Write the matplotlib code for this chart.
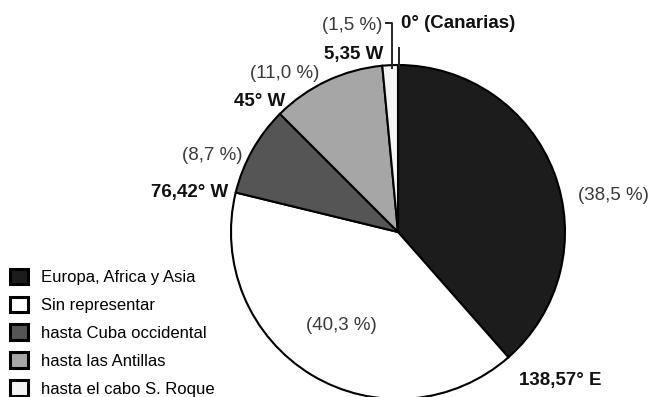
import matplotlib
matplotlib.use("Agg")
import matplotlib.pyplot as plt

plt.rcParams["font.family"] = ["Liberation Sans", "DejaVu Sans"]

# Reparto del globo (porcentaje de los 360°)
categorias = ["Europa, Africa y Asia", "Sin representar", "hasta Cuba occidental",
              "hasta las Antillas", "hasta el cabo S. Roque"]
porcentajes = [38.5, 40.3, 8.7, 11.0, 1.5]
etiquetas_pct = ["(38,5 %)", "(40,3 %)", "(8,7 %)", "(11,0 %)", "(1,5 %)"]
colores = ["#1c1c1c", "#ffffff", "#555555", "#a6a6a6", "#f3f3f3"]
# Longitudes de los límites entre sectores
limites = ["0° (Canarias)", "138,57° E", "76,42° W", "45° W", "5,35 W"]

fig = plt.figure(figsize=(6.5, 3.97), dpi=100)
ax = fig.add_axes([0, 0, 1, 1])

cx, cy, r = 398, 232, 167
wedges, _ = ax.pie(porcentajes, colors=colores, startangle=-90, counterclock=True,
                   center=(cx, cy), radius=r,
                   wedgeprops=dict(edgecolor="black", linewidth=1.5))
ax.set_xlim(0, 650)
ax.set_ylim(397, 0)
ax.set_aspect("equal")
ax.axis("off")

pct_style = dict(fontsize=13.5, color="#3a3a3a", ha="center", va="center")
pct_pos = [(613, 196), (341, 325), (212, 155), (285, 74), (352, 25)]
for txt, (x, y) in zip(etiquetas_pct, pct_pos):
    ax.text(x, y, txt, **pct_style)

lim_style = dict(fontsize=13.5, fontweight="bold", color="#111111", va="center")
ax.text(401, 24, limites[0], ha="left", **lim_style)
ax.text(560, 380, limites[1], ha="center", **lim_style)
ax.text(190, 192, limites[2], ha="center", **lim_style)
ax.text(260, 102, limites[3], ha="center", **lim_style)
ax.text(383, 55, limites[4], ha="right", **lim_style)

# líneas guía en la parte superior
ax.plot([386, 392, 392], [23, 23, 68], color="#222222", linewidth=1.4)
ax.plot([399, 399], [48, 68], color="#222222", linewidth=1.4)

leg = ax.legend(wedges, categorias, loc="lower left", bbox_to_anchor=(0.01, -0.008),
                frameon=False, fontsize=12, handlelength=1.08, handleheight=1.08,
                handletextpad=0.8, labelspacing=0.68, borderpad=0.2,
                borderaxespad=0)
for h in leg.legend_handles:
    h.set_linewidth(2.2)

fig.savefig("out.png", dpi=100)
